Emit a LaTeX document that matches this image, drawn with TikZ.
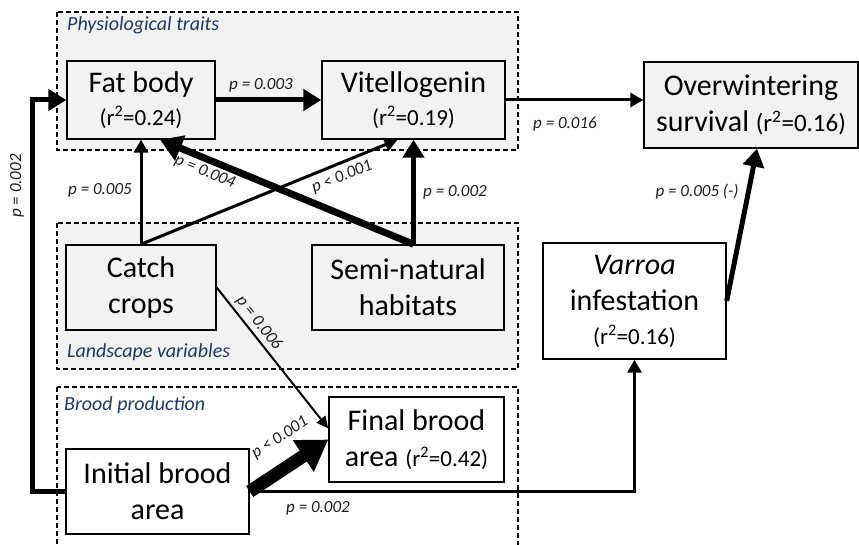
\documentclass[tikz,border=0pt]{standalone}
\usepackage{fontspec}
\setmainfont{Carlito}
\usetikzlibrary{arrows.meta}

\definecolor{grpfill}{RGB}{242,242,242}
\definecolor{boxfill}{RGB}{242,242,242}
\definecolor{grpname}{RGB}{32,56,100}
\definecolor{ptext}{RGB}{30,30,30}

\newcommand{\rsq}[2][23]{{\fontsize{#1}{#1}\selectfont(r\textsuperscript{2}=#2)}}

\tikzset{
  varbox/.style={draw, line width=1.4pt, align=center, inner sep=0pt,
    font=\fontsize{30}{36}\selectfont},
  grp/.style={draw, line width=1.1pt, dash pattern=on 5pt off 3pt},
  grplab/.style={anchor=west, inner sep=0pt, text=grpname,
    font=\fontsize{20}{22}\selectfont\itshape},
  plab/.style={inner sep=0pt, text=ptext, font=\fontsize{17}{18}\selectfont\itshape},
  w2/.style={line width=2pt, -{Triangle[length=12pt,width=11pt]}},
  w3/.style={line width=3pt, -{Triangle[length=13pt,width=14pt]}},
  w5/.style={line width=5pt, -{Triangle[length=18pt,width=21pt]}},
  w7/.style={line width=7pt, -{Triangle[length=22pt,width=26pt]}},
  w13/.style={line width=13pt, -{Triangle[length=30pt,width=36pt]}}
}

\begin{document}
\begin{tikzpicture}[x=1pt,y=-1pt]
  \useasboundingbox (0,0) rectangle (859,545);

  % groups
  \draw[grp, fill=grpfill] (57,12) rectangle (518,150);
  \draw[grp, fill=grpfill] (57,223) rectangle (518,369);
  \draw[grp] (57,387) rectangle (518,560);
  \node[grplab] (physlab) at (67,25) {Physiological traits};
  \node[grplab] (landlab) at (67,352) {Landscape variables};
  \node[grplab] (broodlab) at (64,405) {Brood production};

  \begin{scope}[every node/.style={varbox}]
    \node[fill=boxfill, minimum width=148pt, minimum height=78pt] (fat) at (141,100)
      {Fat body\\[-3pt]\rsq{0.24}};
    \node[fill=boxfill, minimum width=183pt, minimum height=78pt] (vit) at (413.5,100)
      {Vitellogenin\\[-3pt]\rsq{0.19}};
    \node[fill=boxfill, minimum width=214pt, minimum height=86pt] (over) at (751,105)
      {Overwintering\\survival \rsq[25]{0.16}};
    \node[fill=boxfill, minimum width=150pt, minimum height=85pt] (catch) at (141,287.5)
      {Catch\\crops};
    \node[fill=boxfill, minimum width=192pt, minimum height=85pt] (semi) at (408,287.5)
      {Semi-natural\\habitats};
    \node[fill=white, minimum width=183pt, minimum height=116pt] (varroa) at (634.5,301)
      {\textit{Varroa}\\infestation\\[-2pt]\rsq{0.16}};
    \node[fill=white, minimum width=175pt, minimum height=85pt] (final) at (416.5,439.5)
      {Final brood\\area \rsq{0.42}};
    \node[fill=white, minimum width=183pt, minimum height=85pt] (init) at (157.5,491.5)
      {Initial brood\\area};
  \end{scope}

  \begin{scope}[every edge/.style={draw}]
    \path (fat) edge[w5] (vit);
    \path (vit.east) edge[w3] (vit.east -| over.west);
    \path (catch.north) edge[w3] (fat.south);
    \path (catch.north) edge[w3] ([xshift=-16pt]vit.south);
    \path (vit.south |- semi.north) edge[w5] (vit.south);
    \path (vit.south |- semi.north) edge[w7] ([xshift=19pt]fat.south);
    \path (catch.east) edge[w2] ([yshift=11pt]final.west);
    \path (init.east) edge[w13] (final.west);
    \path (varroa.east) edge[w5] ([xshift=6pt]over.south);
  \end{scope}
  \draw[w5] (init.west) -- ([xshift=-33pt]init.west) |- (fat.west);
  \draw[w3] (init.east) -| (varroa.south);

  % p values
  \node[plab] (p1) at (261,85) {p = 0.003};
  \node[plab] (p2) at (565,124) {p = 0.016};
  \node[plab] (p3) at (100,190) {p = 0.005};
  \node[plab, rotate=-22] (p4) at (205,172) {p = 0.004};
  \node[plab, rotate=22] (p5) at (342,177) {p < 0.001};
  \node[plab] (p6) at (455,192) {p = 0.002};
  \node[plab] (p7) at (697,192) {p = 0.005 (-)};
  \node[plab, rotate=90] (p8) at (17,186) {p = 0.002};
  \node[plab, rotate=-52] (p9) at (259,323) {p = 0.006};
  \node[plab, rotate=33] (p10) at (280,438) {p < 0.001};
  \node[plab] (p11) at (318,508) {p = 0.002};
\end{tikzpicture}
\end{document}
